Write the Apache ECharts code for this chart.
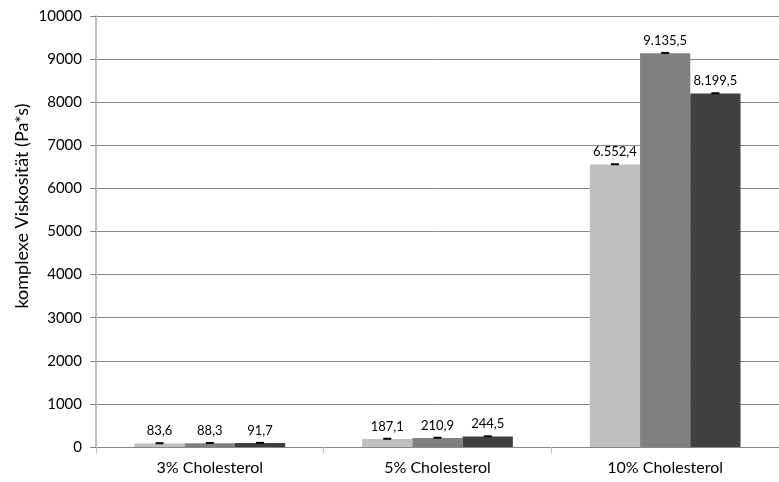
<!DOCTYPE html>
<html><head><meta charset="utf-8">
<script src="https://cdn.jsdelivr.net/npm/echarts@6/dist/echarts.min.js"></script>
<style>html,body{margin:0;padding:0;background:#fff}#c{width:779px;height:482px}</style>
</head><body><div id="c"></div>
<script>
const categories = ['3% Cholesterol', '5% Cholesterol', '10% Cholesterol'];
const seriesA = [83.6, 187.1, 6552.4];
const seriesB = [88.3, 210.9, 9135.5];
const seriesC = [91.7, 244.5, 8199.5];
const errorsA = [4, 4, 8];
const errorsB = [4, 4, 8];
const errorsC = [4, 4, 8];
const yTicks = [0, 1000, 2000, 3000, 4000, 5000, 6000, 7000, 8000, 9000, 10000];
const yTitle = 'komplexe Viskosität (Pa*s)';

const colors = ['#BFBFBF', '#808080', '#404040'];
const font = 'Lato, "Open Sans", sans-serif';
function fmt(v) {
  const parts = v.toFixed(1).split('.');
  parts[0] = parts[0].replace(/\B(?=(\d{3})+(?!\d))/g, '.');
  return parts[0] + ',' + parts[1];
}
const gapFrac = 0.338;
function errSeries(vals, errs, idx) {
  return {
    type: 'custom', z: 5,
    data: vals.map((v, i) => [i, v, errs[i]]),
    renderItem: function (params, api) {
      const band = api.size([1, 0])[0];
      const bw = band * (1 - gapFrac) / 3;
      const c = api.coord([api.value(0), api.value(1)]);
      const x = c[0] + (idx - 1) * bw;
      const hi = api.coord([api.value(0), api.value(1) + api.value(2)])[1];
      const lo = api.coord([api.value(0), api.value(1) - api.value(2)])[1];
      const st = { stroke: '#000', lineWidth: 2 };
      return { type: 'group', children: [
        { type: 'line', shape: { x1: x, y1: hi, x2: x, y2: lo }, style: st },
        { type: 'line', shape: { x1: x - 4, y1: hi, x2: x + 4, y2: hi }, style: st }
      ]};
    }
  };
}
function barSeries(vals, idx) {
  return {
    type: 'bar', data: vals, barGap: '0%', barCategoryGap: (gapFrac * 100) + '%',
    itemStyle: { color: colors[idx] },
    label: { show: true, position: 'top', distance: 6, color: '#000', fontSize: 13, fontFamily: font,
      formatter: p => fmt(p.value) }
  };
}
const chart = echarts.init(document.getElementById('c'));
chart.setOption({
  animation: false,
  grid: { left: 96, width: 693, top: 16, height: 431, containLabel: false },
  graphic: [{
    type: 'text', x: 22, y: 206, rotation: Math.PI / 2,
    style: { text: yTitle, fill: '#000', font: '18px ' + font, textAlign: 'center', textVerticalAlign: 'middle' }
  }],
  xAxis: {
    type: 'category', data: categories,
    axisLine: { lineStyle: { color: '#878787', width: 1 } },
    axisTick: { show: true, length: 6, lineStyle: { color: '#BFBFBF' } },
    axisLabel: { color: '#000', fontSize: 16, fontFamily: font, margin: 13 }
  },
  yAxis: {
    type: 'value', min: 0, max: 10000, interval: 1000,
    axisLine: { show: true, lineStyle: { color: '#BFBFBF', width: 2 } },
    axisTick: { show: true, length: 6, lineStyle: { color: '#878787' } },
    axisLabel: { color: '#000', fontSize: 15, fontFamily: font, margin: 14,
      formatter: v => yTicks.includes(v) ? String(v) : '' },
    splitLine: { lineStyle: { color: '#878787', width: 1 } }
  },
  series: [
    barSeries(seriesA, 0), barSeries(seriesB, 1), barSeries(seriesC, 2),
    errSeries(seriesA, errorsA, 0), errSeries(seriesB, errorsB, 1), errSeries(seriesC, errorsC, 2)
  ]
});
</script></body></html>
